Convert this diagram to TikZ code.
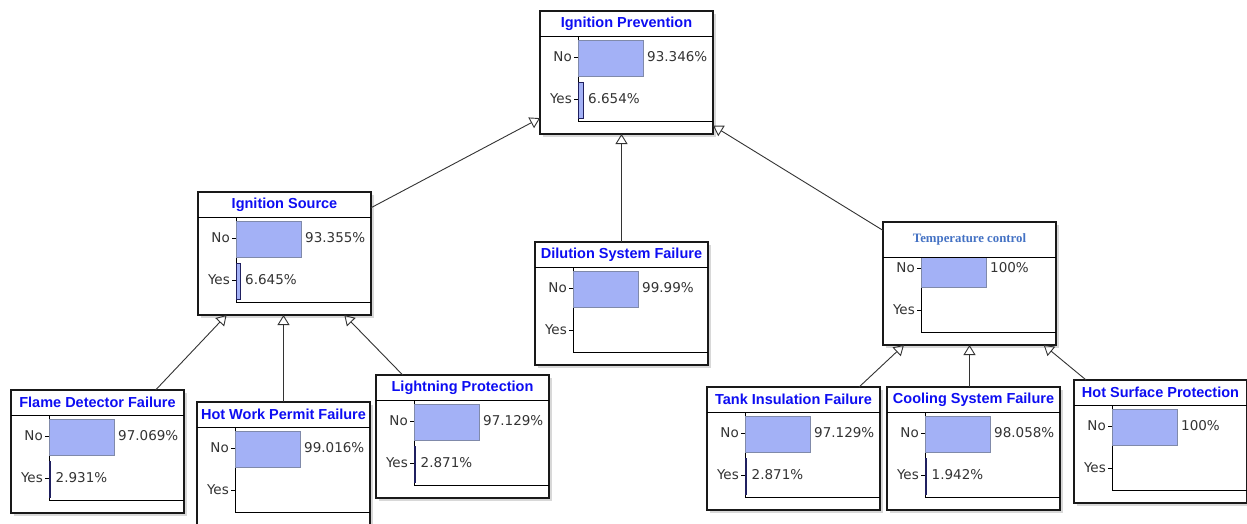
\documentclass[tikz,border=0pt]{standalone}
\usepackage{fontspec}
\setmainfont{DejaVu Sans}
\newfontfamily\headfont{Liberation Sans}
\newfontfamily\tempfont{Liberation Serif}
\usepackage{tikz}
\usetikzlibrary{arrows.meta,shadows,calc}

\definecolor{titleblue}{rgb}{0.05,0.05,0.95}
\definecolor{tempblue}{RGB}{68,114,196}
\definecolor{barfill}{RGB}{163,177,246}
\definecolor{barline}{RGB}{128,138,170}
\definecolor{yesline}{RGB}{32,32,96}

\tikzset{
    netbox/.style={
        rectangle,
        draw=black!90, line width=1.1pt,
        fill=white,
        minimum width=173pt,
        minimum height=123pt,
        outer sep=0pt,
        anchor=north west,
        drop shadow={shadow xshift=3pt, shadow yshift=-3pt, fill=black!30}
    },
    nettitle/.style={
        inner sep=0pt,
        text=titleblue,
        font=\headfont\bfseries\fontsize{14.5}{16}\selectfont
    },
    state/.style={
        inner sep=0pt,
        text=black!80,
        font=\fontsize{13.5}{15}\selectfont
    },
    axis/.style={draw=black, line width=0.8pt},
    rule/.style={draw=black, line width=0.8pt},
    nobar/.style={fill=barfill, draw=barline, line width=0.8pt},
    yesbar/.style={fill=barfill, draw=yesline, line width=0.6pt},
    link/.style={
        draw=black!80, line width=0.9pt,
        -{Triangle[open, length=10pt, width=12pt]}
    }
}

% one network node: [title band height]{name}{top left}{title}{No value}{Yes value}{Yes bar width}
\newcommand{\netnode}[7][25]{%
    \node[netbox] (#2) at (#3) {};
    \begin{scope}[shift={(#2.north west)}]
        \draw[axis] (38,#1) -- (38,110) -- (173,110);
        \draw[axis] (34,46) -- (38,46) (34,88) -- (38,88);
        \node[state, anchor=east] (#2-no) at (32,46) {No};
        \node[state, anchor=east] (#2-yes) at (32,88) {Yes};
        \draw[nobar] (38,29) rectangle (103,65);
        \node[state, anchor=west] (#2-noval) at (107,46) {#5};
        \ifdim#7pt>0pt \draw[yesbar] (38,71) rectangle ++(#7,36); \fi
        \node[state, anchor=west] (#2-yesval) at (43+#7,88) {#6};
        % title band on top
        \fill[white] (0.7,0.7) rectangle (172.3,#1);
        \draw[rule] (0,#1) -- (173,#1);
        \node[nettitle] (#2-title) at (86.5,#1/2) {#4};
    \end{scope}}

\begin{document}
\begin{tikzpicture}[x=1pt, y=-1pt]
    \useasboundingbox (0,0) rectangle (1247,523);
    \clip (0,0) rectangle (1247,523);
    \fill[white] (0,0) rectangle (1247,523);

    \netnode{ip}{540,11}{Ignition Prevention}{93.346\%}{6.654\%}{5}
    \netnode{is}{198,192}{Ignition Source}{93.355\%}{6.645\%}{4}
    \netnode{ds}{535,242}{Dilution System Failure}{99.99\%}{}{0}
    \netnode[35]{tc}{883,222}{\tempfont\fontsize{12.8}{14}\selectfont\color{tempblue}Temperature control}{100\%}{}{0}

    \netnode{fd}{11,390}{Flame Detector Failure}{97.069\%}{2.931\%}{1.5}
    \netnode{hw}{197,402}{Hot Work Permit Failure}{99.016\%}{}{0}
    \netnode{lp}{376,375}{Lightning Protection}{97.129\%}{2.871\%}{1.5}
    \netnode{ti}{707,387}{Tank Insulation Failure}{97.129\%}{2.871\%}{1.5}
    \netnode{cs}{887,387}{Cooling System Failure}{98.058\%}{1.942\%}{1.5}
    \netnode{hs}{1074,380}{Hot Surface Protection}{100\%}{}{0}

    % arcs, child to parent
    \draw[link] (is) -- (ip);
    \draw[link] (ds.north) -- (ds.north |- ip.south);
    \draw[link] (tc) -- (ip);
    \draw[link] (fd) -- (is);
    \draw[link] (hw.north) -- (hw.north |- is.south);
    \draw[link] (lp) -- (is);
    \draw[link] (ti) -- (tc);
    \draw[link] (tc.south |- cs.north) -- (tc.south);
    \draw[link] (hs) -- (tc);
\end{tikzpicture}
\end{document}
